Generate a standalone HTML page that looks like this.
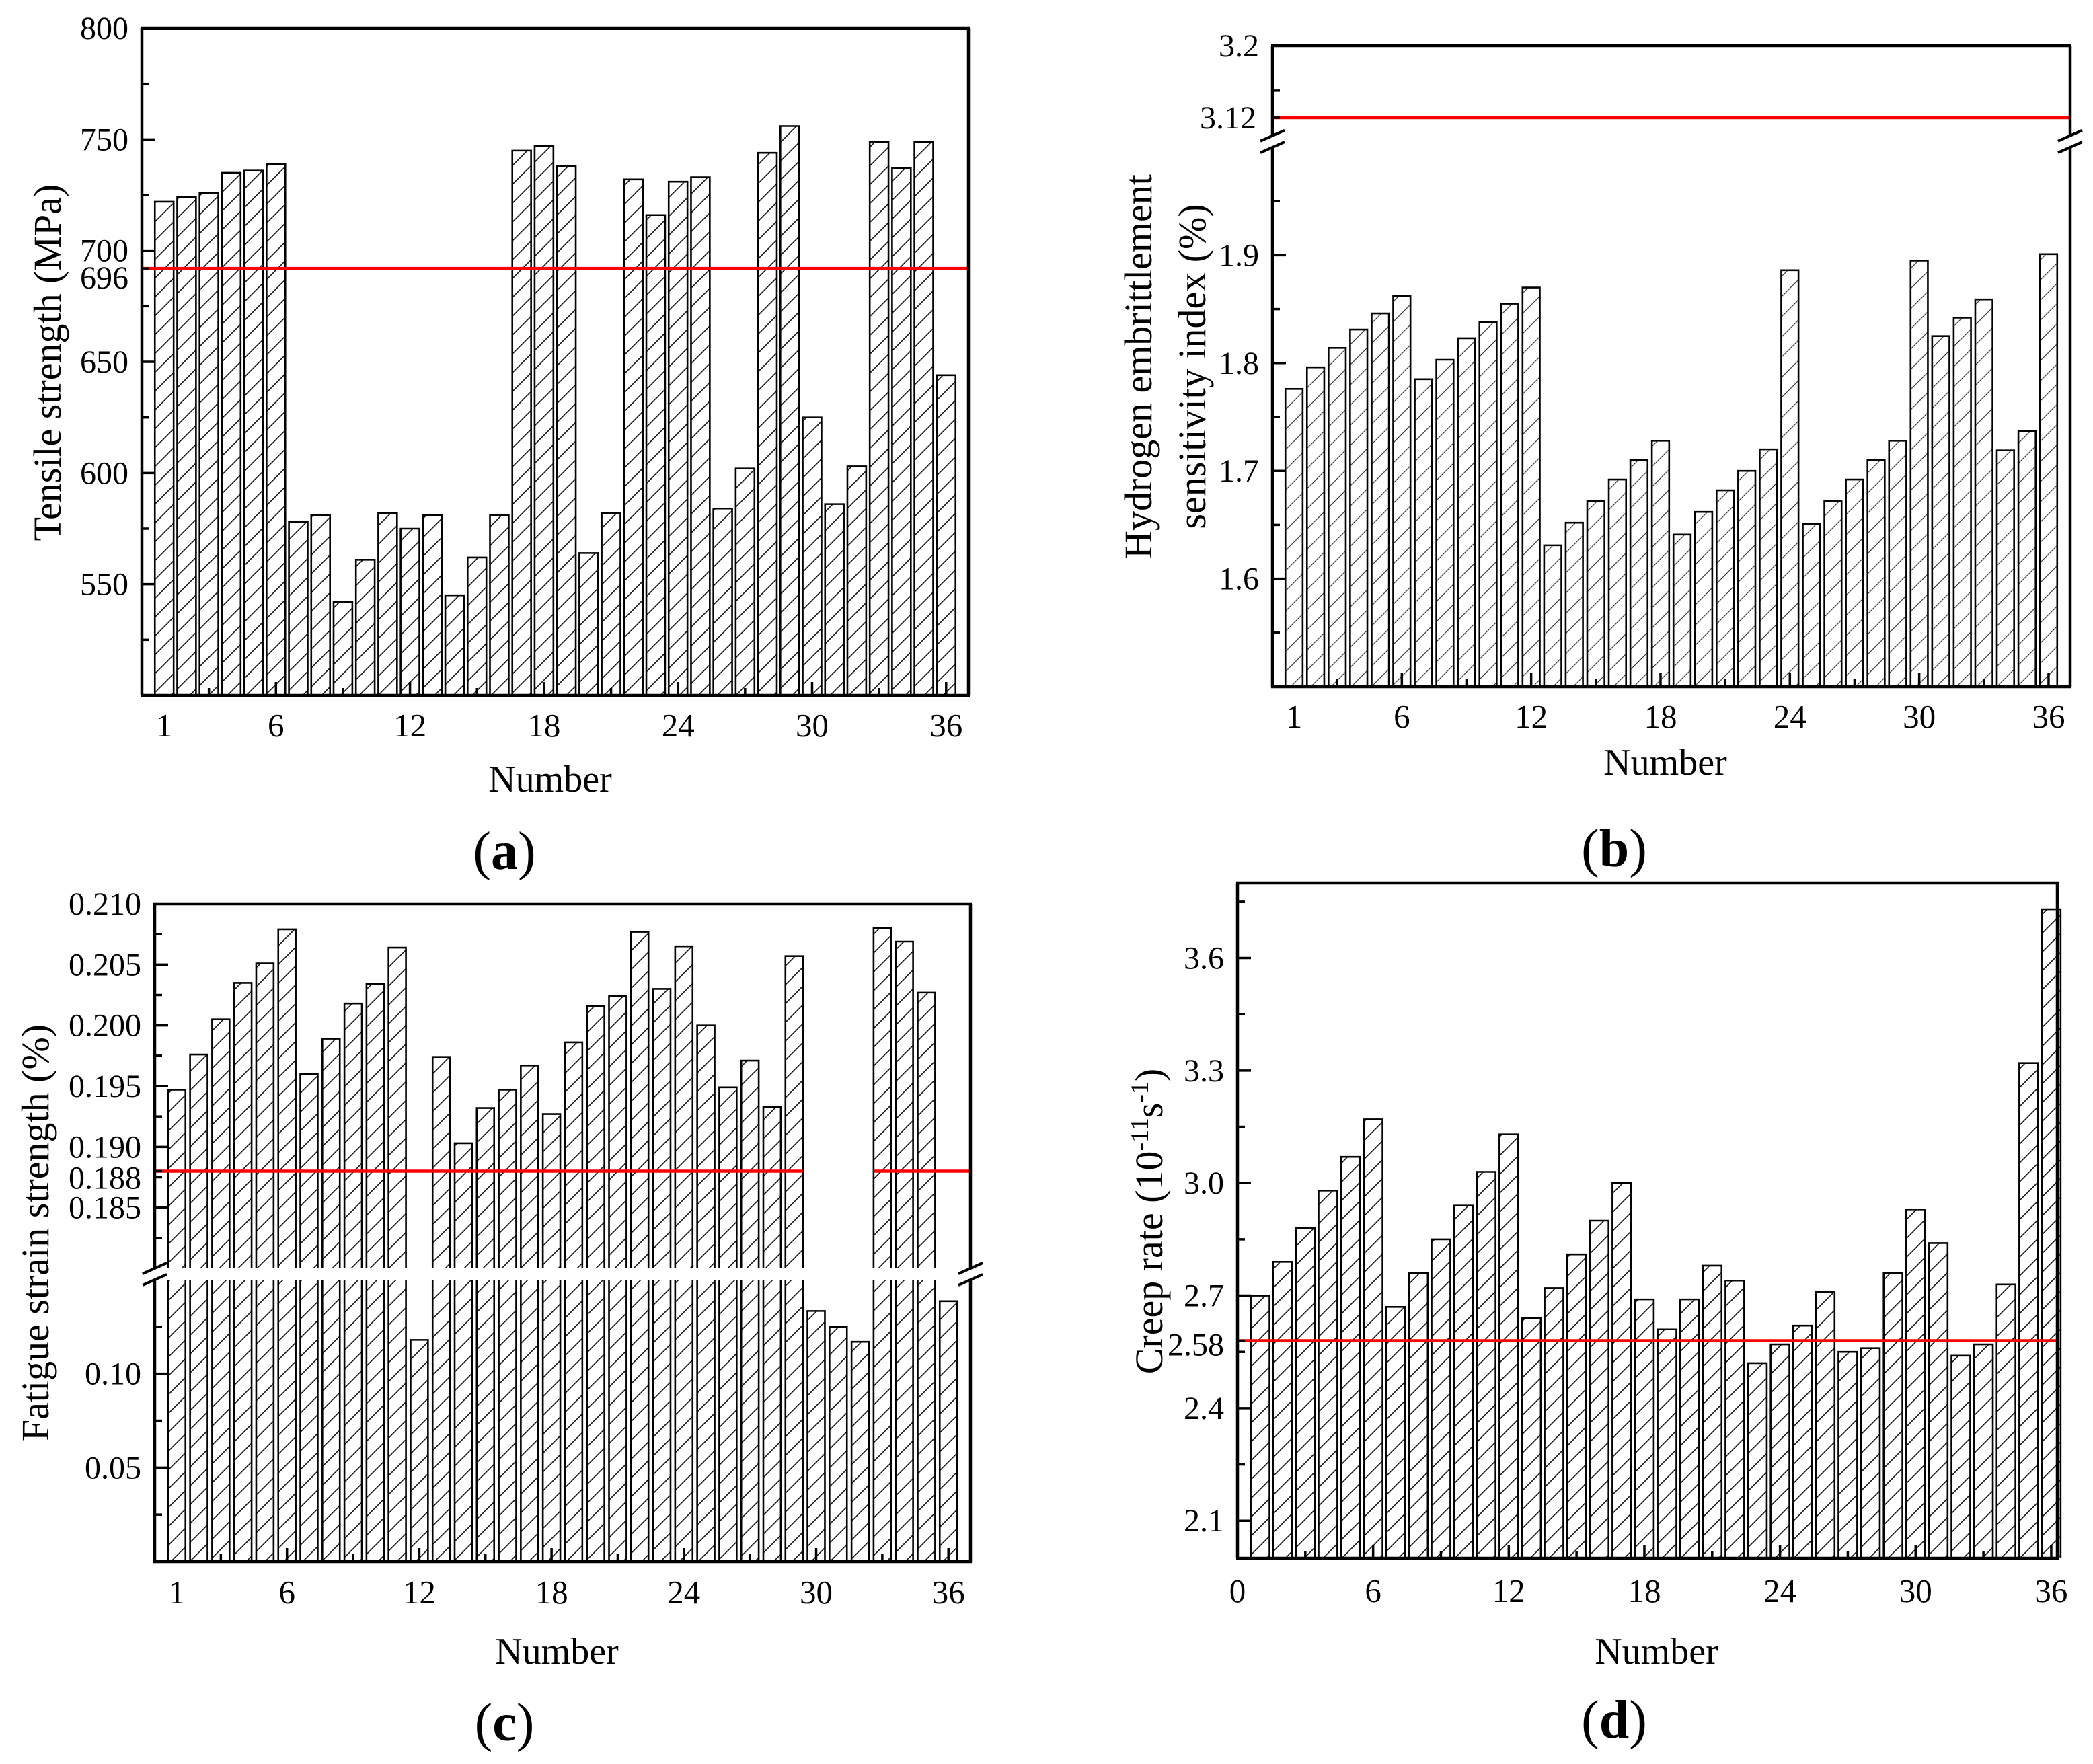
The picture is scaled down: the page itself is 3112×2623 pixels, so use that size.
<!DOCTYPE html>
<html><head><meta charset="utf-8">
<style>
html,body{margin:0;padding:0;background:#fff;}
svg{display:block;}
svg text{font-family:"Liberation Serif","DejaVu Serif",serif;fill:#000;}
</style></head>
<body>
<svg id="fig" width="3112" height="2623" viewBox="0 0 3112 2623" xmlns="http://www.w3.org/2000/svg" font-family="'Liberation Serif', 'DejaVu Serif', serif">
<defs>
<pattern id="hatch" patternUnits="userSpaceOnUse" width="28" height="28">
<path d="M-7,7 L7,-7 M0,28 L28,0 M21,35 L35,21" stroke="#111" stroke-width="1.6"/>
</pattern>
<pattern id="hatchb" patternUnits="userSpaceOnUse" width="30" height="30">
<path d="M-7,7 L7,-7 M0,30 L30,0 M23,37 L37,23" stroke="#444" stroke-width="1.3"/>
</pattern>
</defs>
</svg>
<script>
// ---- data ----
const numbers = Array.from({length:36},(_,i)=>i+1);
const tensileValues = [722,724,726,735,736,739,578,581,542,561,582,575,581,545,562,581,745,747,738,564,582,732,716,731,733,584,602,744,756,625,586,603,749,737,749,644];
const hydrogenValues = [1.776,1.796,1.814,1.831,1.846,1.862,1.785,1.803,1.823,1.838,1.855,1.870,1.631,1.652,1.672,1.692,1.710,1.728,1.641,1.662,1.682,1.700,1.720,1.886,1.651,1.672,1.692,1.710,1.728,1.895,1.825,1.842,1.859,1.719,1.737,1.901];
const fatigueValues = [0.1947,0.1976,0.2005,0.2035,0.2051,0.2079,0.1960,0.1989,0.2018,0.2034,0.2064,0.118,0.1974,0.1903,0.1932,0.1947,0.1967,0.1927,0.1986,0.2016,0.2024,0.2077,0.2030,0.2065,0.2000,0.1949,0.1971,0.1933,0.2057,0.1334,0.125,0.117,0.2080,0.2069,0.2027,0.1386];
const creepValues = [2.70,2.79,2.88,2.98,3.07,3.17,2.67,2.76,2.85,2.94,3.03,3.13,2.64,2.72,2.81,2.90,3.00,2.69,2.61,2.69,2.78,2.74,2.52,2.57,2.62,2.71,2.55,2.56,2.76,2.93,2.84,2.54,2.57,2.73,3.32,3.73];
const tensileRef = 692, hydrogenRef = 3.12, fatigueRef = 0.188, creepRef = 2.58;
const tensileRefLabel = "696";
const tensileTicks = ["550","600","650","700","750","800"];
const hydrogenLowerTicks = ["1.6","1.7","1.8","1.9"];
const hydrogenUpperTicks = ["3.2"];
const fatigueUpperTicks = ["0.185","0.190","0.195","0.200","0.205","0.210"];
const fatigueLowerTicks = ["0.05","0.10"];
const creepTicks = ["2.1","2.4","2.7","3.0","3.3","3.6"];
const xLabels136 = ["1","6","12","18","24","30","36"];
const xLabels036 = ["0","6","12","18","24","30","36"];

const NS="http://www.w3.org/2000/svg";
const FONT="'Liberation Serif', 'DejaVu Serif', serif";
const svg=document.getElementById('fig');
function el(tag,attrs,parent){const e=document.createElementNS(NS,tag);for(const k in attrs)e.setAttribute(k,attrs[k]);(parent||svg).appendChild(e);return e;}
function txt(s,attrs,parent){attrs['font-family']=FONT;const e=el('text',attrs,parent);e.textContent=s;return e;}

function panel(cfg){
  const g=el('g',{});
  
  
  const X=v=>cfg.x0+(v-cfg.xmin)/(cfg.xmax-cfg.xmin)*(cfg.x1-cfg.x0);
  const Y=v=>{for(const s of cfg.segs){if(v>=s.vmin-1e-9&&v<=s.vmax+1e-9)return s.ybot-(v-s.vmin)/(s.vmax-s.vmin)*(s.ybot-s.ytop);}return null;};
  cfg.values.forEach((v,i)=>{
    const n=cfg.cats[i];const xl=X(n-cfg.bw/2),xr=X(n+cfg.bw/2);
    cfg.segs.forEach(s=>{
      if(v<=s.vmin)return;
      const top=v>=s.vmax?s.ytop:Y(v);const isTop=v<s.vmax||s===cfg.segs[cfg.segs.length-1];
      const r=el('rect',{x:xl,y:top,width:xr-xl,height:s.ybot-top,fill:'url(#'+cfg.hatch+')'},g);
      
      
      const d=isTop?`M${xl},${s.ybot} L${xl},${top} L${xr},${top} L${xr},${s.ybot}`:`M${xl},${s.ybot} L${xl},${top} M${xr},${top} L${xr},${s.ybot}`;
      const p=el('path',{d:d,fill:'none',stroke:'#000','stroke-width':2.6},g);
      
      
    });
  });
  const ry=Y(cfg.ref);
  (cfg.refSpans||[[cfg.x0,cfg.x1]]).forEach(sp=>{
    const l=el('line',{x1:sp[0],x2:sp[1],y1:ry,y2:ry,stroke:'#f00','stroke-width':4.5},g);
    
    
  });
  const segs=cfg.segs;
  const ax=el('g',{},g);
  
  
  el('line',{x1:cfg.x0-2,x2:cfg.x1+2,y1:cfg.y1,y2:cfg.y1,stroke:'#000','stroke-width':4.5},ax);
  el('line',{x1:cfg.x0-2,x2:cfg.x1+2,y1:segs[segs.length-1].ytop,y2:segs[segs.length-1].ytop,stroke:'#000','stroke-width':4.5},ax);
  segs.forEach(s=>{
    [cfg.x0,cfg.x1].forEach(x=>el('line',{x1:x,x2:x,y1:s.ytop,y2:s.ybot,stroke:'#000','stroke-width':4.5},ax));
  });
  if(segs.length>1){
    const yb=segs[0].ytop, yt=segs[1].ybot;
    [cfg.x0,cfg.x1].forEach(x=>{
      el('line',{x1:x-18,x2:x+18,y1:yb+8,y2:yb-8,stroke:'#000','stroke-width':4},ax);
      el('line',{x1:x-18,x2:x+18,y1:yt+8,y2:yt-8,stroke:'#000','stroke-width':4},ax);
    });
  }
  cfg.yticks.forEach(t=>{
    const y=Y(t.v);
    el('line',{x1:cfg.x0,x2:cfg.x0+(t.minor?11:20),y1:y,y2:y,stroke:'#000','stroke-width':3.5},ax);
    if(t.label!==undefined){
      const tl=txt(t.label,{x:cfg.x0-20+(t.dx||0),y:y+(t.dy||0)+16,'text-anchor':'end','font-size':48},g);
      
      
    }
  });
  for(let v=cfg.xtickStart;v<=cfg.xtickEnd;v+=3){
    const x=X(v);const major=v%6===0;
    el('line',{x1:x,x2:x,y1:cfg.y1,y2:cfg.y1-(major?20:11),stroke:'#000','stroke-width':3.5},ax);
  }
  cfg.xlabels.forEach(s=>{
    const tl=txt(s,{x:X(+s),y:cfg.xlabY,'text-anchor':'middle','font-size':49},g);
    
    
  });
  const xt=txt('Number',{x:cfg.numX,y:cfg.numY,'text-anchor':'middle','font-size':56},g);
  
  
  const pl=el('text',{x:cfg.panelX,y:cfg.panelY,'text-anchor':'middle','font-size':80,'font-family':FONT},g);
  pl.innerHTML='(<tspan font-weight="bold">'+cfg.letter+'</tspan>)';
  
  
  cfg.ytitle(g);
}
function yTitle(g,x,y,lines,size){
  const t=el('text',{transform:`translate(${x},${y}) rotate(-90)`,'text-anchor':'middle','font-size':size,'font-family':FONT},g);
  
  
  lines.forEach((l,i)=>{const ts=el('tspan',{x:0,dy:i?80:0},t);ts.innerHTML=l;});
}

// (a)
{
 const yt=[];for(let v=525;v<=800;v+=25){yt.push({v:v,minor:v%50!==0});}
 tensileTicks.forEach(s=>{const o=yt.find(t=>t.v===+s);o.label=s;});
 yt.push({v:tensileRef,label:tensileRefLabel,minor:true,dy:14});
 panel({name:'panel-a-tensile',letter:'a',x0:211,x1:1440,y1:1034,xmin:0,xmax:37,bw:0.84,
  segs:[{vmin:500,vmax:800,ytop:42,ybot:1034}],values:tensileValues,cats:numbers,hatch:'hatch',
  ref:tensileRef,yticks:yt,xtickStart:3,xtickEnd:36,xlabels:xLabels136,xlabY:1095,numX:818,numY:1177,panelX:750,panelY:1292,
  ytitle:g=>yTitle(g,90,539,['Tensile strength (MPa)'],58)});
}
// (b)
{
 const yt=[];for(let v=1.55;v<=1.96;v+=0.05){const r=Math.round(v*100)/100;yt.push({v:r,minor:Math.round(r*100)%10!==0});}
 hydrogenLowerTicks.forEach(s=>{const o=yt.find(t=>Math.abs(t.v-+s)<1e-6);o.label=s;});
 yt.push({v:3.15,minor:true});
 hydrogenUpperTicks.forEach(s=>yt.push({v:+s,label:s,minor:false}));
 yt.push({v:hydrogenRef,label:String(hydrogenRef),minor:true,dx:-4});
 panel({name:'panel-b-hydrogen',letter:'b',x0:1892,x1:3078,y1:1021,xmin:0,xmax:37,bw:0.8,
  segs:[{vmin:1.5,vmax:2.0,ytop:219,ybot:1021},{vmin:3.1,vmax:3.2,ytop:68,ybot:201.75}],values:hydrogenValues,cats:numbers,hatch:'hatchb',
  ref:hydrogenRef,yticks:yt,xtickStart:3,xtickEnd:36,xlabels:xLabels136,xlabY:1082,numX:2476,numY:1152,panelX:2400,panelY:1288,
  ytitle:g=>yTitle(g,1712,545,['Hydrogen embrittlement','sensitivity index (%)'],58)});
}
// (c)
{
 const yt=[];for(let v=0.025;v<=0.126;v+=0.025){const r=Math.round(v*1000)/1000;yt.push({v:r,minor:Math.round(r*1000)%50!==0});}
 for(let v=0.1825;v<=0.2101;v+=0.0025){const r=Math.round(v*10000)/10000;yt.push({v:r,minor:Math.round(r*10000)%50!==0});}
 fatigueLowerTicks.concat(fatigueUpperTicks).forEach(s=>{const o=yt.find(t=>Math.abs(t.v-+s)<1e-6);if(o)o.label=s;});
 yt.push({v:fatigueRef,label:fatigueRef.toFixed(3),minor:true,dy:10});
 const X=v=>230+v/37*(1443-230);
 panel({name:'panel-c-fatigue',letter:'c',x0:230,x1:1443,y1:2322,xmin:0,xmax:37,bw:0.79,
  segs:[{vmin:0,vmax:0.15,ytop:1903,ybot:2322},{vmin:0.18,vmax:0.21,ytop:1344,ybot:1886}],values:fatigueValues,cats:numbers,hatch:'hatch',
  ref:fatigueRef,refSpans:[[230,X(29+0.4)],[X(33-0.4),1443]],yticks:yt,xtickStart:3,xtickEnd:36,xlabels:xLabels136,xlabY:2384,numX:828,numY:2474,panelX:750,panelY:2588,
  ytitle:g=>yTitle(g,72,1833,['Fatigue strain strength (%)'],58)});
}
// (d)
{
 const yt=[];for(let v=2.1;v<=3.76;v+=0.15){const r=Math.round(v*100)/100;yt.push({v:r,minor:Math.round(r*100)%30!==0});}
 creepTicks.forEach(s=>{const o=yt.find(t=>Math.abs(t.v-+s)<1e-6);if(o)o.label=s;});
 yt.push({v:creepRef,label:String(creepRef),minor:true,dy:6});
 panel({name:'panel-d-creep',letter:'d',x0:1840,x1:3059,y1:2317,xmin:0,xmax:36.27,bw:0.83,
  segs:[{vmin:2.0,vmax:3.8,ytop:1313,ybot:2317}],values:creepValues,cats:numbers,hatch:'hatch',
  ref:creepRef,yticks:yt,xtickStart:3,xtickEnd:36,xlabels:xLabels036,xlabY:2382,numX:2463,numY:2474,panelX:2400,panelY:2584,
  ytitle:g=>yTitle(g,1728,1816,['Creep rate (10<tspan baseline-shift="super" font-size="38">-11</tspan>s<tspan baseline-shift="super" font-size="38">-1</tspan>)'],58)});
}
</script>
</body></html>
